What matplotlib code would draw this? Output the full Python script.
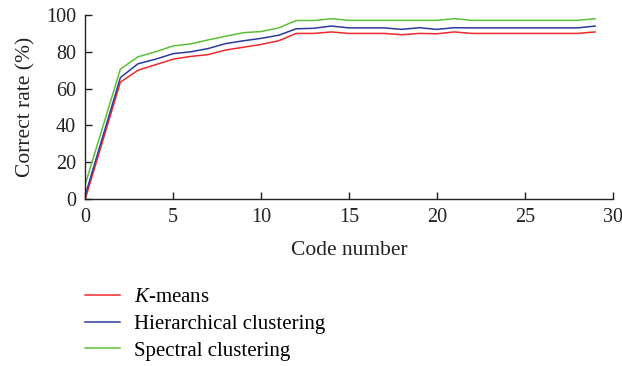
import matplotlib
matplotlib.use("Agg")
import matplotlib.pyplot as plt

# Correct rate (%) against the number of codes for three clustering methods
code_number = [0, 2, 3, 4, 5, 6, 7, 8, 9, 10, 11, 12, 13, 14, 15, 16, 17, 18,
               19, 20, 21, 22, 23, 24, 25, 26, 27, 28, 29]
kmeans = [0, 63.5, 70, 73, 76, 77.5, 78.5, 81, 82.5, 84, 86, 90, 90, 90.8, 90,
          90, 90, 89.3, 90, 89.8, 90.8, 90, 90, 90, 90, 90, 90, 90, 90.8]
hierarchical = [2, 66, 73.5, 76, 79, 80, 81.8, 84.5, 86, 87.3, 89, 92.5, 92.8,
                94, 93, 93, 93, 92.2, 93.1, 92.2, 93.1, 93, 93, 93, 93, 93, 93,
                93, 94]
spectral = [8, 70.6, 77.3, 80, 83.2, 84.3, 86.5, 88.5, 90.4, 91, 93, 97, 97,
            98, 97.1, 97.1, 97.1, 97.1, 97.1, 97.1, 98, 97.1, 97.1, 97.1, 97.1,
            97.1, 97.1, 97.1, 98]

series_names = ["$K$-means", "Hierarchical clustering", "Spectral clustering"]
series_colors = ["#ee2a2a", "#2b3a9e", "#5cbf3a"]
x_ticks = [0, 5, 10, 15, 20, 25, 30]
y_ticks = [0, 20, 40, 60, 80, 100]

plt.rcParams["font.family"] = ["Liberation Serif", "DejaVu Serif"]
plt.rcParams["mathtext.fontset"] = "custom"
plt.rcParams["mathtext.it"] = "Liberation Serif:italic"
plt.rcParams["mathtext.rm"] = "Liberation Serif"

fig = plt.figure(figsize=(6.22, 3.66), dpi=100)
ax = fig.add_axes([0.137, 0.456, 0.848, 0.503])

lines = []
for values, name, color in zip([kmeans, hierarchical, spectral],
                               series_names, series_colors):
    (ln,) = ax.plot(code_number, values, color=color, lw=1.1, label=name)
    lines.append(ln)

ax.set_xlim(0, 30)
ax.set_ylim(0, 100)
ax.set_xticks(x_ticks)
ax.set_yticks(y_ticks)
ax.spines["top"].set_visible(False)
ax.spines["right"].set_visible(False)
for s in ("left", "bottom"):
    ax.spines[s].set_linewidth(1.0)
    ax.spines[s].set_color("#222222")
ax.tick_params(direction="in", length=5, width=1.0, labelsize=14.5,
               colors="#222222")
ax.tick_params(axis="y", pad=6.5)
ax.tick_params(axis="x", pad=6.5)
ax.set_xlabel("Code number", fontsize=15.5, color="#222222")
ax.set_ylabel("Correct rate (%)", fontsize=15.5, color="#222222")
ax.xaxis.set_label_coords(0.5, -0.225)
ax.yaxis.set_label_coords(-0.094, 0.5)

fig.legend(handles=lines, labels=series_names, loc="upper left",
           bbox_to_anchor=(0.1367, 0.2148), frameon=False, fontsize=15,
           handlelength=1.68, handletextpad=0.67, labelspacing=0.35,
           borderpad=0, borderaxespad=0)

fig.savefig("out.png", dpi=100)
